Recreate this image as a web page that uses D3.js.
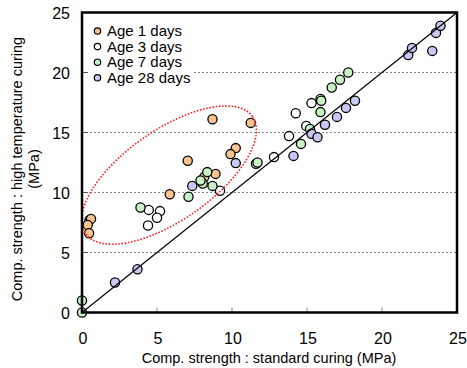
<!DOCTYPE html>
<html>
<head>
<meta charset="utf-8">
<script src="https://cdn.jsdelivr.net/npm/d3@7"></script>
<style>
  body { margin: 0; background: #fff; }
  text { font-family: "Liberation Sans", Arial, sans-serif; fill: #000; }
</style>
</head>
<body>
<div id="canvas"></div>
<script>
"use strict";

let svgWidth = 467;
let svgHeight = 368;

/* Data: [standard curing, high temperature curing] in MPa */
let age1 = [
  [0.5, 7.7], [0.6, 7.8], [0.38, 7.3], [0.47, 6.6],
  [8.7, 16.1], [11.25, 15.8], [10.25, 13.7], [9.9, 13.2],
  [7.05, 12.65], [8.9, 11.55], [8.15, 11.3], [5.85, 9.85]
];
let age3 = [
  [11.6, 12.4], [9.2, 10.15], [4.45, 8.55], [5.2, 8.45], [5.0, 7.9], [4.4, 7.25],
  [15.9, 17.8], [15.3, 17.45], [14.25, 16.6], [14.95, 15.55], [13.8, 14.7], [12.8, 12.95]
];
let age7 = [
  [0, 1.0], [0, 0], [3.9, 8.75], [7.1, 9.65], [8.7, 10.55], [8.05, 10.75],
  [7.9, 11.0], [8.35, 11.7], [11.7, 12.5], [14.6, 14.05], [15.2, 15.3],
  [15.9, 16.7], [15.95, 17.65], [16.65, 18.75], [17.2, 19.4], [17.75, 20.0]
];
let age28 = [
  [2.2, 2.5], [3.7, 3.6], [7.35, 10.55], [10.25, 12.45], [14.1, 13.05],
  [15.3, 14.9], [15.7, 14.6], [16.2, 15.65], [17.0, 16.3], [17.6, 17.05],
  [18.2, 17.65], [21.75, 21.45], [22.0, 22.05], [23.35, 21.8], [23.6, 23.3], [23.9, 23.9]
];

let seriesNames = ["Age 1 days", "Age 3 days", "Age 7 days", "Age 28 days"];
let seriesColors = ["#fac28f", "#ffffff", "#c6f2c6", "#c8c8f5"];
let seriesData = [age1, age3, age7, age28];

let tickValues = [0, 5, 10, 15, 20, 25];
let gridValues = [5, 10, 15, 20];

let svg = d3.select("#canvas")
  .append("svg")
  .attr("width", svgWidth)
  .attr("height", svgHeight);

let xScale = d3.scaleLinear().domain([0, 25]).range([82, 457]);
let yScale = d3.scaleLinear().domain([0, 25]).range([312.5, 12.5]);

/* Grid lines */
svg.selectAll(".grid")
  .data(gridValues)
  .enter()
  .append("line")
  .attr("x1", xScale(0))
  .attr("x2", xScale(25))
  .attr("y1", d => yScale(d))
  .attr("y2", d => yScale(d))
  .attr("stroke", "#888")
  .attr("stroke-width", 1)
  .attr("stroke-dasharray", "2,2");

/* Inward ticks */
svg.selectAll(".xtick")
  .data(gridValues)
  .enter()
  .append("line")
  .attr("x1", d => xScale(d))
  .attr("x2", d => xScale(d))
  .attr("y1", yScale(0))
  .attr("y2", yScale(0) - 5)
  .attr("stroke", "#888");

svg.selectAll(".ytick")
  .data(gridValues)
  .enter()
  .append("line")
  .attr("x1", xScale(0))
  .attr("x2", xScale(0) + 6)
  .attr("y1", d => yScale(d))
  .attr("y2", d => yScale(d))
  .attr("stroke", "#555");

/* Legend background */
svg.append("rect")
  .attr("x", 88)
  .attr("y", 20)
  .attr("width", 106)
  .attr("height", 66)
  .attr("fill", "#fff");

/* Points */
seriesData.forEach((pts, i) => {
  svg.append("g")
    .selectAll("circle")
    .data(pts)
    .enter()
    .append("circle")
    .attr("cx", d => xScale(d[0]))
    .attr("cy", d => yScale(d[1]))
    .attr("r", 4.6)
    .attr("fill", seriesColors[i])
    .attr("stroke", "#000")
    .attr("stroke-width", 1.3);
});

/* 1:1 line */
svg.append("line")
  .attr("x1", xScale(0))
  .attr("y1", yScale(0))
  .attr("x2", xScale(25))
  .attr("y2", yScale(25))
  .attr("stroke", "#000")
  .attr("stroke-width", 1.2);

/* Dotted ellipse around early-age points */
let ecx = xScale(5.8);
let ecy = yScale(11.45);
svg.append("ellipse")
  .attr("cx", 0)
  .attr("cy", 0)
  .attr("rx", 102)
  .attr("ry", 45)
  .attr("transform", "translate(" + ecx + "," + ecy + ") rotate(-35)")
  .attr("fill", "none")
  .attr("stroke", "#ff2020")
  .attr("stroke-width", 1.6)
  .attr("stroke-dasharray", "1.6,1.6");

/* Frame */
svg.append("rect")
  .attr("x", xScale(0))
  .attr("y", yScale(25))
  .attr("width", xScale(25) - xScale(0))
  .attr("height", yScale(0) - yScale(25))
  .attr("fill", "none")
  .attr("stroke", "#000")
  .attr("stroke-width", 2.5);

/* Tick labels */
svg.selectAll(".xlab")
  .data(tickValues)
  .enter()
  .append("text")
  .attr("x", d => xScale(d) + 1)
  .attr("y", 344)
  .attr("text-anchor", "middle")
  .attr("font-size", "16px")
  .text(d => d);

svg.selectAll(".ylab")
  .data(tickValues)
  .enter()
  .append("text")
  .attr("x", 70)
  .attr("y", d => yScale(d) + 6)
  .attr("text-anchor", "end")
  .attr("font-size", "16px")
  .text(d => d);

/* Axis titles */
svg.append("text")
  .attr("x", 269)
  .attr("y", 363)
  .attr("text-anchor", "middle")
  .attr("font-size", "14.5px")
  .text("Comp. strength : standard curing (MPa)");

let yTitle = svg.append("text")
  .attr("transform", "translate(22,169) rotate(-90)")
  .attr("text-anchor", "middle")
  .attr("font-size", "14.5px");
yTitle.append("tspan")
  .attr("x", 0)
  .attr("y", 0)
  .text("Comp. strength : high temperature curing");
yTitle.append("tspan")
  .attr("x", 0)
  .attr("y", 17)
  .text("(MPa)");

/* Legend */
seriesNames.forEach((name, i) => {
  let yPos = 31 + i * 15.6;
  svg.append("circle")
    .attr("cx", 97.5)
    .attr("cy", yPos)
    .attr("r", 3.2)
    .attr("fill", seriesColors[i])
    .attr("stroke", "#000")
    .attr("stroke-width", 1.2);
  svg.append("text")
    .attr("x", 107)
    .attr("y", yPos + 5)
    .attr("font-size", "15px")
    .text(name);
});
</script>
</body>
</html>
